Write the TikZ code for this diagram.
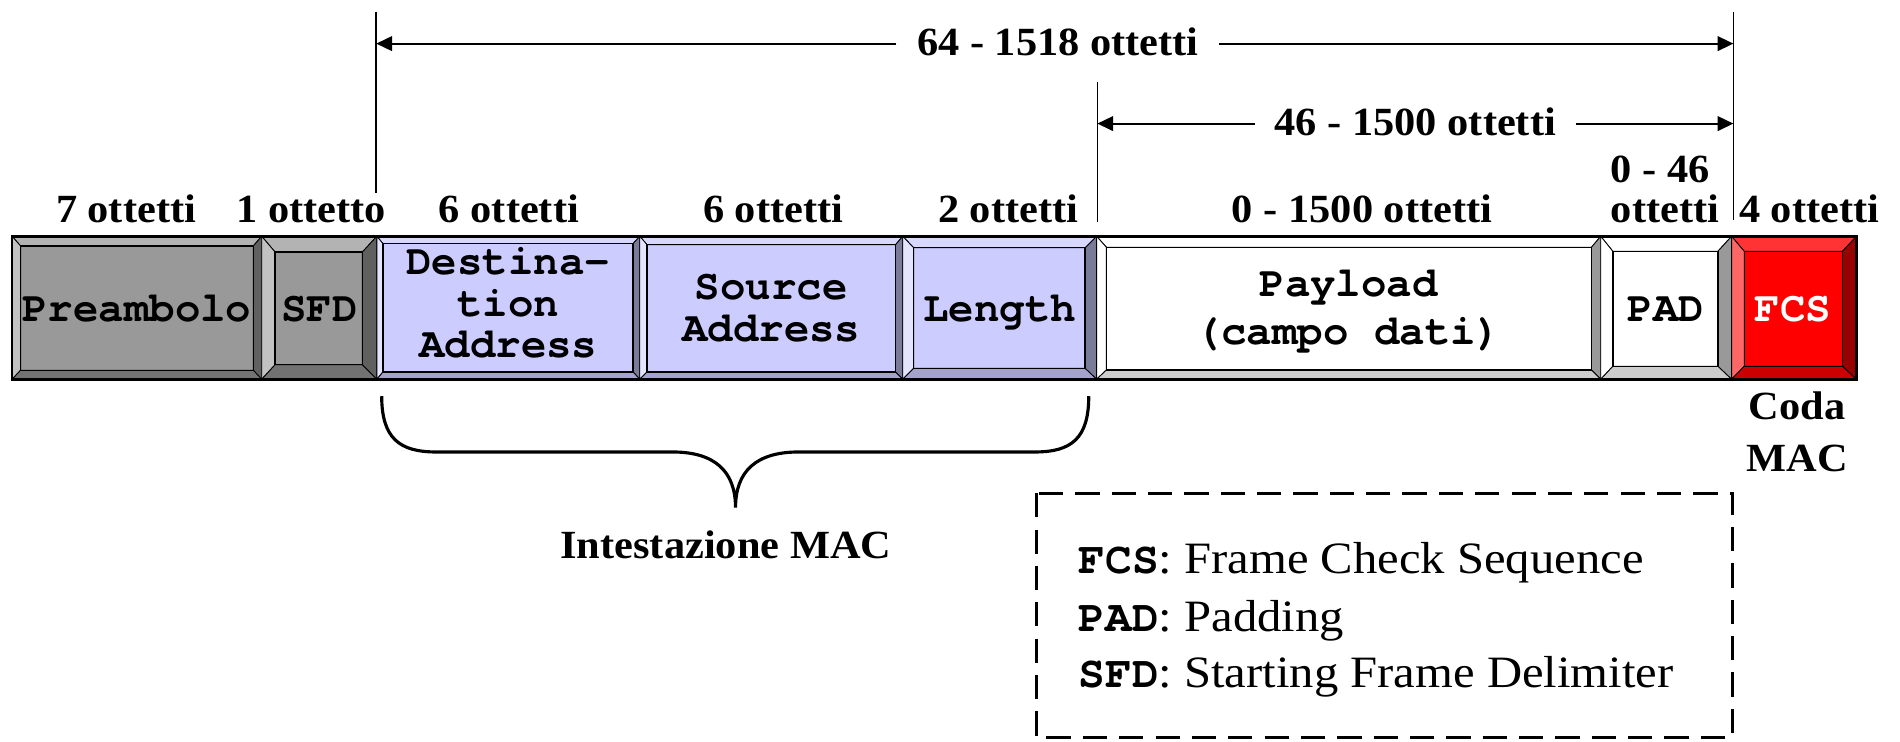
\documentclass[tikz,border=0pt]{standalone}
\usepackage{fontspec}
\setmainfont{Liberation Serif}
\newfontfamily\monofont{texgyrecursor}[Extension=.otf, UprightFont=*-regular, BoldFont=*-bold]
\newfontfamily\lblfont{Liberation Serif}[FakeStretch=1.06]
\newfontfamily\legfont{Liberation Serif}[FakeStretch=1.085]
\usetikzlibrary{arrows.meta}
\definecolor{grF}{HTML}{999999}\definecolor{grT}{HTML}{B3B3B3}\definecolor{grL}{HTML}{C2C2C2}\definecolor{grR}{HTML}{606060}\definecolor{grB}{HTML}{727272}
\definecolor{blF}{HTML}{CCCCFF}\definecolor{blT}{HTML}{D8D8FF}\definecolor{blL}{HTML}{E4E4FF}\definecolor{blR}{HTML}{7A7A99}\definecolor{blB}{HTML}{A3A3CC}
\definecolor{whF}{HTML}{FFFFFF}\definecolor{whT}{HTML}{FFFFFF}\definecolor{whL}{HTML}{FFFFFF}\definecolor{whR}{HTML}{999999}\definecolor{whB}{HTML}{CCCCCC}
\definecolor{rdF}{HTML}{FF0000}\definecolor{rdT}{HTML}{FF3333}\definecolor{rdL}{HTML}{FF6666}\definecolor{rdR}{HTML}{990000}\definecolor{rdB}{HTML}{CC0000}
\newcommand{\bvbox}[7]{%
  \pgfmathsetmacro\bvxa{#1+#3}\pgfmathsetmacro\bvxb{#2-#5}%
  \pgfmathsetmacro\bvya{195+#4}\pgfmathsetmacro\bvyb{313-#6}%
  \fill[#7F] (\bvxa,\bvya) rectangle (\bvxb,\bvyb);
  \filldraw[fill=#7T,bev] (#1,195) -- (#2,195) -- (\bvxb,\bvya) -- (\bvxa,\bvya) -- cycle;
  \filldraw[fill=#7L,bev] (#1,195) -- (\bvxa,\bvya) -- (\bvxa,\bvyb) -- (#1,313) -- cycle;
  \filldraw[fill=#7R,bev] (#2,195) -- (#2,313) -- (\bvxb,\bvyb) -- (\bvxb,\bvya) -- cycle;
  \filldraw[fill=#7B,bev] (#1,313) -- (\bvxa,\bvyb) -- (\bvxb,\bvyb) -- (#2,313) -- cycle;
  \draw[line width=1.1pt] (\bvxa,\bvya) rectangle (\bvxb,\bvyb);
}
\begin{document}
\begin{tikzpicture}[x=1pt,y=-1pt,
  lbl/.style={font=\lblfont\bfseries\fontsize{33}{36}\selectfont, inner sep=0pt, anchor=base},
  btxt/.style={font=\monofont\bfseries\fontsize{35}{34.5}\selectfont, inner sep=0pt, align=center},
  leg/.style={font=\legfont\fontsize{37}{40}\selectfont, inner sep=0pt, anchor=base west},
  vline/.style={line width=1.3pt},
  arr/.style={line width=1.8pt,-{Triangle[length=13pt,width=12pt]}},
  bev/.style={line width=0.7pt, draw=black},
]
\useasboundingbox (0,0) rectangle (1568,612);
\fill[white] (0,0) rectangle (1568,612);

% frame fields
\bvbox{10}{216}{7}{8}{7}{7.5}{gr}
\bvbox{216}{311}{11}{13}{12}{12}{gr}
\bvbox{311}{528}{5}{6}{5.5}{6}{bl}
\bvbox{528}{745}{6}{7}{6}{6}{bl}
\bvbox{745}{905}{9}{9.5}{9.5}{9}{bl}
\bvbox{905}{1321}{8}{9}{7.6}{7.6}{wh}
\bvbox{1321}{1429}{10}{12.4}{11.3}{10.7}{wh}
\bvbox{1429}{1532}{10.4}{12.4}{11.5}{10.7}{rd}
\draw[line width=2.2pt] (10,195) rectangle (1532,313);

\node[btxt] (tPre) at (113,254.5) {Preambolo};
\node[btxt] (tSFD) at (263.5,255.5) {SFD};
\node[btxt] (tDA) at (419.5,250) {Destina-\\tion\\Address};
\node[btxt] (tSA) at (636.5,254) {Source\\Address};
\node[btxt] (tLen) at (825,258) {Length};
\node[btxt,font=\monofont\bfseries\fontsize{35}{40}\selectfont] (tPay) at (1113,257) {Payload\\(campo dati)};
\node[btxt] (tPAD) at (1375,255.5) {PAD};
\node[btxt,text=white] (tFCS) at (1479.5,255.5) {FCS};

% size labels
\node[lbl] (l7) at (104,184) {7 ottetti};
\node[lbl] (l1) at (257,184) {1 ottetto};
\node[lbl] (l6a) at (420,184) {6 ottetti};
\node[lbl] (l6b) at (638,184) {6 ottetti};
\node[lbl] (l2) at (832,184) {2 ottetti};
\node[lbl] (l0) at (1124,184) {0 - 1500 ottetti};
\node[lbl] (l046) at (1370,151) {0 - 46};
\node[lbl] (l046b) at (1374,184) {ottetti};
\node[lbl] (l4) at (1493,184) {4 ottetti};
\node[lbl,inner xsep=17pt] (l64) at (873,45.5) {64 - 1518 ottetti};
\node[lbl,inner xsep=16pt] (l46) at (1168,112) {46 - 1500 ottetti};
\node[lbl] (coda) at (1483,346.6) {Coda};
\node[lbl] (mac) at (1483,389) {MAC};
\node[lbl] (intest) at (599,460.5) {Intestazione MAC};

% dimension lines
\coordinate (vA) at (310.5,9.6);   \coordinate (vAb) at (310.5,159);
\coordinate (vB) at (1430.5,9.6);  \coordinate (vBb) at (1430.5,181.6);
\coordinate (vC) at (905.6,68);    \coordinate (vCb) at (905.6,183);
\draw[vline] (vA) -- (vAb);
\draw[vline] (vB) -- (vBb);
\draw[vline] (vC) -- (vCb);
\coordinate (a1L) at (310.5,36);  \coordinate (a1R) at (1430.5,36);
\coordinate (a2L) at (905.6,102); \coordinate (a2R) at (1430.5,102);
\draw[arr] (l64.west |- a1L) -- (a1L);
\draw[arr] (l64.east |- a1R) -- (a1R);
\draw[arr] (l46.west |- a2L) -- (a2L);
\draw[arr] (l46.east |- a2R) -- (a2R);

% brace
\coordinate (brL) at (315,327);
\coordinate (brR) at (898.5,327);
\coordinate (brTip) at (607,419);
\draw[line width=2.6pt] (brL) .. controls +(0,35) and +(-30,0) .. (360,373) -- (555,373)
  .. controls +(35,0) and +(0,-30) .. (brTip)
  .. controls +(0,-30) and +(-35,0) .. (659,373) -- (854,373)
  .. controls +(30,0) and +(0,35) .. (brR);

% legend
\draw[line width=2.5pt, dash pattern=on 20pt off 10pt] (855.6,407) rectangle (1429.5,609);
\node[leg] (g1) at (890,473) {{\monofont\bfseries\fontsize{36.7}{40}\selectfont FCS}: Frame Check Sequence};
\node[leg] (g2) at (890,521) {{\monofont\bfseries\fontsize{36.7}{40}\selectfont PAD}: Padding};
\node[leg] (g3) at (890,567) {{\monofont\bfseries\fontsize{36.7}{40}\selectfont SFD}: Starting Frame Delimiter};
\end{tikzpicture}
\end{document}
